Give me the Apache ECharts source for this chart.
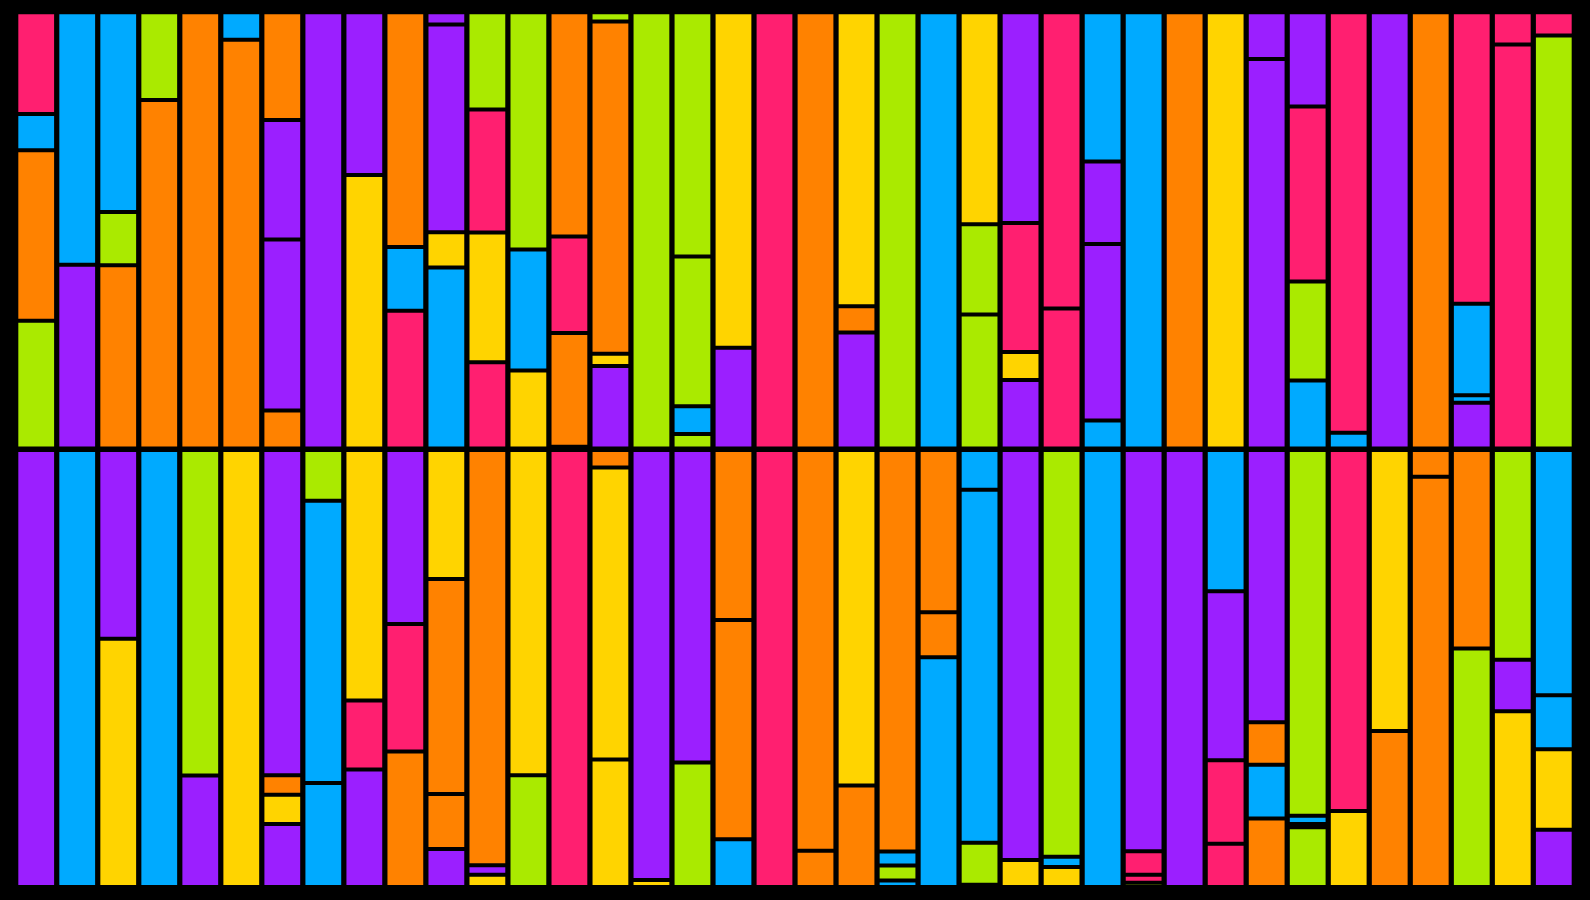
<!DOCTYPE html>
<html>
<head>
<meta charset="utf-8">
<script src="https://cdn.jsdelivr.net/npm/echarts@6/dist/echarts.min.js"></script>
<style>
html,body{margin:0;padding:0;background:#000;}
#chart{width:1590px;height:900px;}
</style>
</head>
<body>
<div id="chart"></div>
<script>
// Colour keys: P pink, B blue, O orange, G green, V purple, Y yellow
const palette = {P:'#FF1F70', B:'#00AAFF', O:'#FF8200', G:'#AAEA00', V:'#9B1FFF', Y:'#FFD400'};

const categories = Array.from({length:38}, (_, i) => 'C' + (i + 1));

// Top row: segments listed bottom to top
const topColors = ["GOBP","VB","OGB","OG","O","OB","OVVO","V","YV","PBO","BYVV","PYPG","YBG",
  "OOPO","VYOG","G","GBGG","VY","P","O","VOY","G","B","GGY","VYPV","PP","BVVB","B","O","Y",
  "VV","BGPV","BP","V","O","VBBP","PP","GP"];
const topValues = [
  [29.3,39.1,8.3,23.3],[42.1,57.9],[42.0,12.2,45.8],[79.9,20.1],[100],[93.7,6.3],
  [8.7,39.2,27.4,24.7],[100],[62.7,37.3],[31.6,14.6,53.8],[41.5,8.1,47.6,2.8],
  [19.8,29.7,28.2,22.3],[17.9,27.7,54.4],[0.4,26.1,22.1,51.4],[18.9,2.8,76.2,2.1],
  [100],[3.3,6.4,34.3,56.0],[23.1,76.9],[100],[100],[26.6,6.0,67.4],[100],[100],
  [30.7,20.7,48.6],[15.7,6.4,29.6,48.3],[32.1,67.9],[6.4,40.5,18.9,34.2],[100],[100],
  [100],[89.3,10.7],[15.6,22.7,40.1,21.6],[3.6,96.4],[100],[100],[10.5,1.7,21.0,66.8],
  [92.6,7.4],[94.7,5.3]
];

// Bottom row: segments listed bottom to top
const bottomColors = ["V","B","YV","B","VG","Y","VYOV","BBG","VPY","OPV","VOOY","YVO","GY",
  "P","YYO","YV","GV","BOO","P","OO","OY","BGBO","BOO","GGBB","YV","YBG","B","GPPV","V",
  "PPVB","OBOV","GBBG","YP","OY","OO","GO","YVG","VYBB"];
const bottomValues = [
  [100],[100],[56.8,43.2],[100],[25.5,74.5],[100],[14.4,6.7,4.5,74.4],[23.8,64.6,11.6],
  [26.9,15.8,57.3],[31.0,29.2,39.8],[8.7,12.6,49.2,29.5],[2.8,2.2,95.0],[25.6,74.4],
  [100],[29.2,66.8,4.0],[1.6,98.4],[28.5,71.5],[10.9,50.2,38.9],[100],[8.3,91.7],
  [23.2,76.8],[1.5,3.4,3.2,91.9],[52.6,10.3,37.1],[0.5,9.6,80.8,9.1],[6.2,93.8],
  [4.6,2.3,93.1],[100],[1.0,1.8,5.4,91.8],[100],[9.9,19.1,38.7,32.3],
  [15.7,12.3,9.7,62.3],[13.7,0.7,1.9,83.7],[17.4,82.6],[35.7,64.3],[93.9,6.1],
  [54.6,45.4],[40.2,11.8,48.0],[13.1,18.4,12.4,56.1]
];

const rows = [[topColors, topValues], [bottomColors, bottomValues]];
const series = [];
rows.forEach(([cols, vals], r) => {
  const maxLayers = Math.max(...vals.map(v => v.length));
  for (let k = 0; k < maxLayers; k++) {
    series.push({
      type: 'bar',
      xAxisIndex: r,
      yAxisIndex: r,
      stack: 'row' + r,
      barCategoryGap: '3%',
      itemStyle: {borderColor: '#000', borderWidth: 2},
      emphasis: {disabled: true},
      data: vals.map((v, c) => v[k] === undefined ? '-' :
        {value: v[k], itemStyle: {color: palette[cols[c][k]]}})
    });
  }
});

const chart = echarts.init(document.getElementById('chart'), null, {renderer: 'canvas'});
chart.setOption({
  backgroundColor: '#000',
  animation: false,
  grid: [
    {left: 15.7, right: 15.7, top: 12.3, height: 436.2},
    {left: 15.7, right: 15.7, top: 450, height: 437}
  ],
  xAxis: [0, 1].map(i => ({type: 'category', gridIndex: i, data: categories, show: false})),
  yAxis: [0, 1].map(i => ({type: 'value', gridIndex: i, min: 0, max: 100, show: false})),
  series: series
});
</script>
</body>
</html>
